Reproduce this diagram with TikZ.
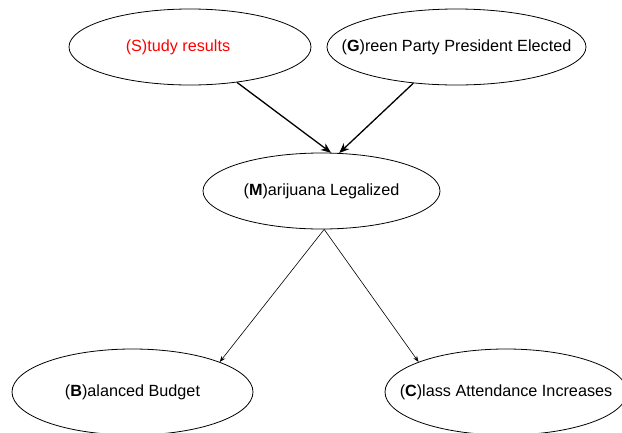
\documentclass[tikz,border=0pt]{standalone}
\usepackage{fontspec}
\setmainfont{Liberation Sans}
\usepackage{xcolor}
\usepackage{tikz}
\usetikzlibrary{shapes.geometric,arrows.meta}

\begin{document}
\begin{tikzpicture}[x=1pt,y=-1pt,
    var/.style={ellipse,draw=black,line width=0.8pt,text=black,inner xsep=-60pt,inner ysep=0pt,minimum height=76pt,
                font=\fontsize{16.2}{19.4}\selectfont},
    cause/.style={line width=1.3pt,-{Stealth[length=10pt,width=8pt,inset=3pt]}},
    effect/.style={line width=0.6pt,-{Stealth[length=6pt,width=4.5pt,inset=2pt]}}]
                    \useasboundingbox (0,0) rectangle (622,432);
                    \node[var,minimum width=242pt,
                          label={[text=red,xshift=-12pt,font=\fontsize{16.2}{19.4}\selectfont]center:(S)tudy results}] (S) at (190,47) {};
                    \node[var,minimum width=259pt] (G) at (456.5,47) {(\textbf{G})reen Party President Elected};
                    \node[var,minimum width=237pt] (M) at (321.5,191) {(\textbf{M})arijuana Legalized};
                    \node[var,minimum width=241pt,minimum height=86pt] (B) at (132.5,392) {(\textbf{B})alanced Budget};
                    \node[var,minimum width=242pt,minimum height=86pt] (C) at (506,392) {(\textbf{C})lass Attendance Increases};

                    \draw[cause] (S.-37) -- (M.76);
                    \draw[cause] (G.-140) -- (M.65);
                    \draw[effect] (M.-86) -- (B.19);
                    \draw[effect] (M.-86) -- (C.161);
                \end{tikzpicture}
\end{document}
